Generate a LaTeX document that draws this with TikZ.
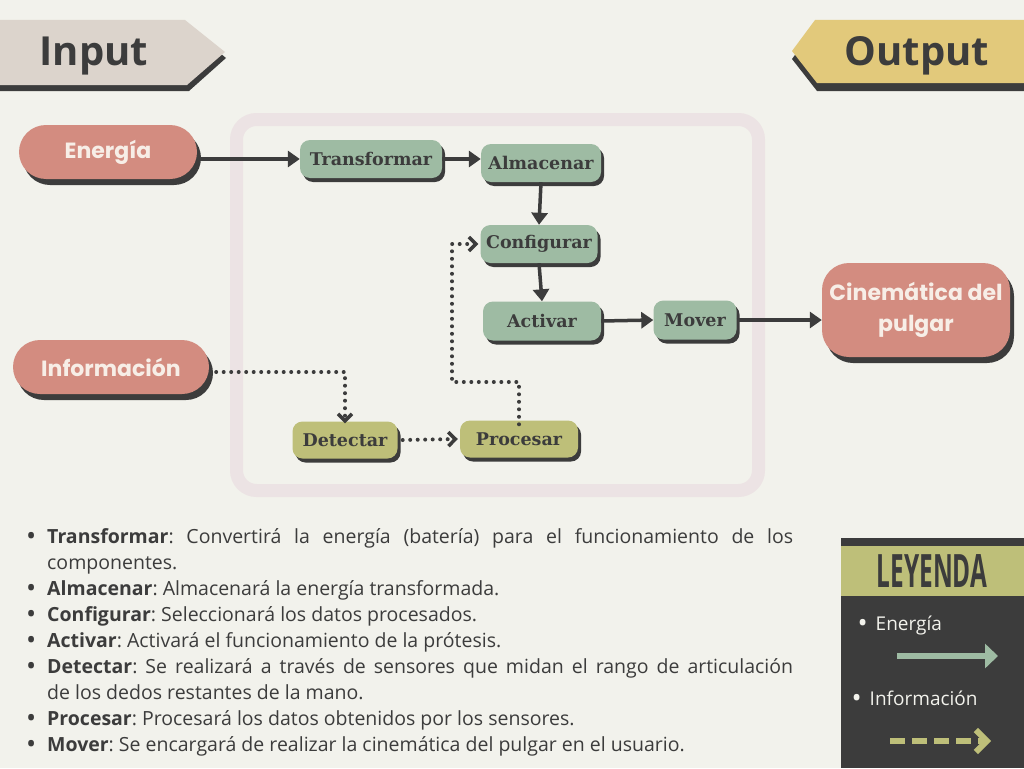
\documentclass[tikz,border=0pt]{standalone}
\usepackage{fontspec}
\setmainfont{Open Sans}
\newfontfamily\pildora{Poppins}
\newfontfamily\losa{DejaVu Serif}
\usetikzlibrary{arrows.meta}

\definecolor{fondo}{HTML}{F2F2EC}
\definecolor{tinta}{HTML}{3C3C3C}
\definecolor{rosa}{HTML}{D38C80}
\definecolor{salvia}{HTML}{9EBBA3}
\definecolor{oliva}{HTML}{BEBF79}
\definecolor{arena}{HTML}{DCD4CC}
\definecolor{oro}{HTML}{E2C97B}
\definecolor{marco}{HTML}{ECE3E4}
\definecolor{crema}{HTML}{F7EEE7}

% viñeta grande y un punto de la lista
\newcommand\vineta{{\fontsize{27}{0}\selectfont\raisebox{-2.5pt}{\textbullet}}}
\newcommand\punto[2]{\noindent\llap{\vineta\hspace{11pt}}\textbf{#1}: #2\par}

\begin{document}
\begin{tikzpicture}[x=1pt, y=-1pt,
  sombra/.style={preaction={fill=tinta, transform canvas={shift={(#1)}}}},
  sombra/.default={3pt,-4pt},
  entrada/.style={sombra={4pt,-6pt}, fill=rosa, rounded corners=27pt, text=crema,
    inner sep=0pt, font=\pildora\bfseries\fontsize{22}{31}\selectfont},
  proceso/.style={sombra, fill=salvia, rounded corners=10pt, text=tinta,
    inner sep=0pt, font=\losa\bfseries\fontsize{17.5}{20}\selectfont},
  sensor/.style={proceso, fill=oliva},
  titulo/.style={text=tinta, font=\bfseries\fontsize{40}{44}\selectfont},
  flecha/.style={tinta, line width=3.5pt, -{Triangle[length=12pt,width=16pt]}},
  punteado/.style={tinta, line width=4pt, line cap=round, dash pattern=on 0pt off 7.5pt,
    -{Straight Barb[length=7pt,width=14pt,line width=3.5pt]}},
  leyendatxt/.style={text=fondo, anchor=west, font=\fontsize{19}{22}\selectfont}]

  % Fondo
  \fill[fondo] (0,0) rectangle (1024,768);

  % Marco del sistema
  \draw[marco, line width=13pt, rounded corners=20pt] (236.5,119.5) rectangle (758.5,490.5);

  % Cintas de entrada y salida
  \fill[tinta] (0,26) -- (187,26) -- (226,58) -- (189,91) -- (0,91) -- cycle;
  \fill[arena] (0,20) -- (185,20) -- (225,52) -- (187,85) -- (0,85) -- cycle;
  \node[titulo] (input) at (94,56) {Input};

  \fill[tinta] (1024,28) -- (815,28) -- (792,59) -- (817,91) -- (1024,91) -- cycle;
  \fill[oro] (1024,20) -- (815,20) -- (792,51) -- (817,83) -- (1024,83) -- cycle;
  \node[titulo] (output) at (917,56) {Output};

  % Entradas y salida
  \node[entrada, minimum width=178pt, minimum height=54pt] (energia) at (108,152) {Energía};
  \node[entrada, minimum width=196pt, minimum height=54pt] (informacion) at (111,367) {Información};
  \node[entrada, minimum width=188pt, minimum height=94pt, align=center] (cinematica) at (916,310)
    {Cinemática del\\pulgar};

  % Funciones
  \node[proceso, minimum width=142pt, minimum height=38pt] (transformar) at (371,159) {Transformar};
  \node[proceso, minimum width=120pt, minimum height=38pt] (almacenar) at (541,163) {Almacenar};
  \node[proceso, minimum width=117pt, minimum height=38pt] (configurar) at (539,244) {Configurar};
  \node[proceso, minimum width=118pt, minimum height=39pt] (activar) at (542,321) {Activar};
  \node[proceso, minimum width=83pt, minimum height=39pt] (mover) at (695,320) {Mover};
  \node[sensor, minimum width=105pt, minimum height=37pt] (detectar) at (345,440) {Detectar};
  \node[sensor, minimum width=118pt, minimum height=37pt] (procesar) at (519,439) {Procesar};

  % Flujo de energía
  \draw[flecha] (energia.east |- transformar) -- (transformar.west);
  \draw[flecha] (transformar.east) -- (transformar.east -| almacenar.west);
  \draw[flecha] (almacenar.south) -- (configurar.north);
  \draw[flecha] (configurar.south) -- (activar.north);
  \draw[flecha] (activar.east) -- (mover.west);
  \draw[flecha] (mover.east) -- (mover.east -| cinematica.west);

  % Flujo de información
  \coordinate (codo) at (452,382);
  \draw[punteado] ([shift={(7,5)}]informacion.east) -| ([yshift=-2]detectar.north);
  \draw[punteado] ([xshift=5]detectar.east) -- ([xshift=-2]procesar.west);
  \draw[punteado] ([yshift=-4]procesar.north) |- (codo) |- ([xshift=-2]configurar.west);

  % Descripción de cada función
  \node[anchor=north west, inner sep=0pt, text width=746pt, align=justify, text=tinta,
    font=\fontsize{19.5}{26}\selectfont\frenchspacing] (lista) at (47,528) {%
    \punto{Transformar}{Convertirá la energía (batería) para el funcionamiento de los\linebreak componentes.}
    \punto{Almacenar}{Almacenará la energía transformada.}
    \punto{Configurar}{Seleccionará los datos procesados.}
    \punto{Activar}{Activará el funcionamiento de la prótesis.}
    \punto{Detectar}{Se realizará a través de sensores que midan el rango de articulación\linebreak de los dedos restantes de la mano.}
    \punto{Procesar}{Procesará los datos obtenidos por los sensores.}
    \punto{Mover}{Se encargará de realizar la cinemática del pulgar en el usuario.}};

  % Leyenda
  \fill[tinta] (841,538) rectangle (1024,768);
  \fill[oliva] (841,546) rectangle (1024,596);
  \node[text=tinta, font=\bfseries\fontsize{46}{48}\selectfont, xscale=0.53] (leyenda) at (932,571) {LEYENDA};
  \node[leyendatxt] (lenergia) at (854,625) {\vineta\hspace{8pt}Energía};
  \node[leyendatxt] (linfo) at (848,699) {\vineta\hspace{8pt}Información};
  \coordinate (e1) at (897,656);
  \coordinate (e2) at (998,656);
  \draw[salvia, line width=6pt, -{Triangle[length=13pt,width=24pt]}] (e1) -- (e2);
  \coordinate (i1) at (890,741);
  \coordinate (i2) at (991,741);
  \draw[oliva, line width=6pt, dash pattern=on 15pt off 7pt,
    -{Straight Barb[length=11pt,width=22pt,line width=6pt]}] (i1) -- (i2);
\end{tikzpicture}
\end{document}
